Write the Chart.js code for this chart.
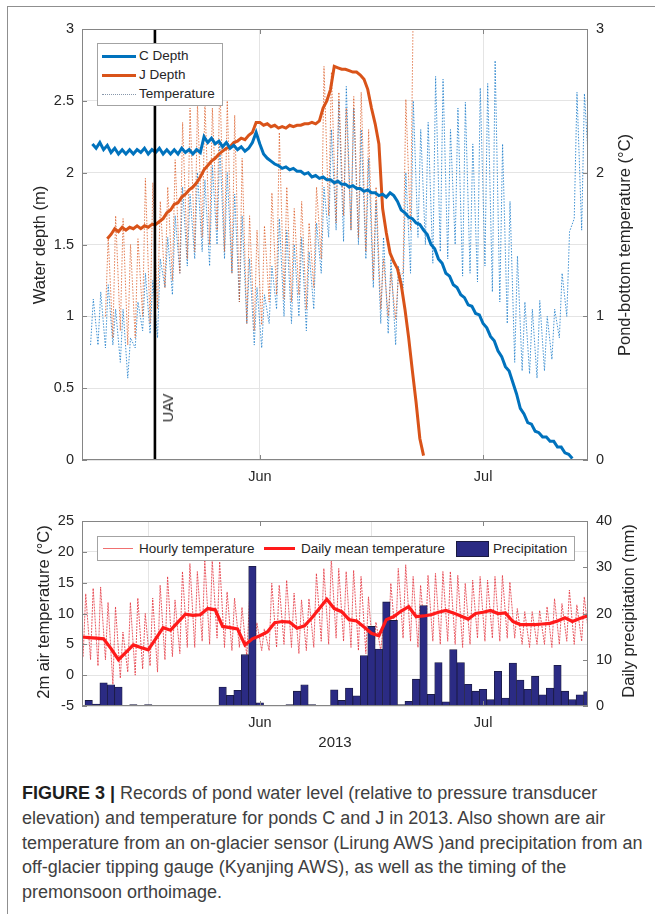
<!DOCTYPE html>
<html>
<head>
<meta charset="utf-8">
<script src="https://cdn.jsdelivr.net/npm/chart.js@4.4.1/dist/chart.umd.min.js"></script>
<style>
    html, body { margin: 0; padding: 0; background: #fff; }
    body { width: 655px; height: 914px; position: relative; overflow: hidden;
           font-family: "Liberation Sans", Arial, sans-serif; color: #262626; }
    #frame { position: absolute; left: 7px; top: 6px; width: 700px; height: 1000px;
             border-top: 1.5px solid #8f8f8f; border-left: 1.5px solid #8f8f8f; }
    canvas { position: absolute; left: 0; }
    #topChart { top: 0; }
    #bottomChart { top: 490px; }
    .title { position: absolute; white-space: nowrap; font-size: 16.5px; line-height: 18px; }
    .rot { transform: translate(-50%, -50%) rotate(-90deg); }
    .legend { position: absolute; background: #fff; border: 1px solid #a3a3a3; font-size: 13.5px; z-index: 2; }
    .legend .txt { position: absolute; white-space: nowrap; line-height: 16px; }
    .legend .smp { position: absolute; height: 0; }
    #caption { position: absolute; left: 22px; top: 781px; font-size: 18px; line-height: 24.8px;
               color: #404040; white-space: nowrap; }
    #caption b { color: #1e1e1e; }
</style>
</head>
<body>
<div id="frame"></div>
<canvas id="topChart" width="655" height="490"></canvas>
<canvas id="bottomChart" width="655" height="270"></canvas>

<!-- axis titles -->
<div class="title rot" style="left:39px;top:245px">Water depth (m)</div>
<div class="title rot" style="left:624px;top:245px">Pond-bottom temperature (°C)</div>
<div class="title rot" style="left:43px;top:612px">2m air temperature (°C)</div>
<div class="title rot" style="left:628px;top:611px">Daily precipitation (mm)</div>
<div class="title" style="left:335px;top:742px;transform:translate(-50%,-50%);font-size:15px">2013</div>
<div class="title rot" style="left:167.5px;top:408px;font-size:14.5px">UAV</div>

<!-- top legend -->
<div class="legend" style="left:97px;top:43px;width:124px;height:61px">
    <div class="smp" style="left:4px;top:11px;width:34px;border-top:3px solid #0072bd"></div>
    <div class="txt" style="left:41px;top:4px">C Depth</div>
    <div class="smp" style="left:4px;top:30px;width:34px;border-top:3px solid #d95319"></div>
    <div class="txt" style="left:41px;top:23px">J Depth</div>
    <div class="smp" style="left:4px;top:50px;width:34px;border-top:1px dotted #8797ab"></div>
    <div class="txt" style="left:41px;top:42px">Temperature</div>
</div>

<!-- bottom legend -->
<div class="legend" style="left:97px;top:536px;width:476px;height:23px">
    <div class="smp" style="left:5px;top:11px;width:30px;border-top:1px solid #f07070"></div>
    <div class="txt" style="left:41px;top:4px">Hourly temperature</div>
    <div class="smp" style="left:166px;top:10px;width:31px;border-top:3px solid #ff1a1a"></div>
    <div class="txt" style="left:203px;top:4px">Daily mean temperature</div>
    <div class="smp" style="left:358px;top:4px;width:31px;height:14px;background:#2b2b84;border:1px solid #1a1a40"></div>
    <div class="txt" style="left:395px;top:4px">Precipitation</div>
</div>

<div id="caption"><b>FIGURE 3 |</b> Records of pond water level (relative to pressure transducer<br>elevation) and temperature for ponds C and J in 2013. Also shown are air<br>temperature from an on-glacier sensor (Lirung AWS )and precipitation from an<br>off-glacier tipping gauge (Kyanjing AWS), as well as the timing of the<br>premonsoon orthoimage.</div>

<script>
// time axis: days counted from 1 June 2013
const xMin = -23.9;
const xMax = 44.1;
const monthTicks  = [0, 30];
const monthLabels = ['Jun', 'Jul'];
const depthTicks    = [0, 0.5, 1, 1.5, 2, 2.5, 3];
const pondTempTicks = [0, 1, 2, 3];
const airTempTicks  = [-5, 0, 5, 10, 15, 20, 25];
const precipTicks   = [0, 10, 20, 30, 40];

const uavDay = -14.1;

// pond C depth (m), twice a day from day -22.5
const cDepthStart = -22.5;
const cDepth = [
    2.20, 2.17, 2.21, 2.16, 2.19, 2.14, 2.17, 2.13, 2.16, 2.13,
    2.16, 2.13, 2.16, 2.14, 2.17, 2.13, 2.16, 2.14, 2.17, 2.13,
    2.16, 2.13, 2.16, 2.13, 2.17, 2.14, 2.16, 2.13, 2.16, 2.14,
    2.25, 2.21, 2.24, 2.20, 2.22, 2.18, 2.21, 2.17, 2.19, 2.16,
    2.18, 2.15, 2.17, 2.21, 2.28,
    2.20, 2.13, 2.10, 2.08, 2.06, 2.05, 2.03, 2.04, 2.02, 2.03,
    2.01, 2.01, 1.99, 2.00, 1.97, 1.98, 1.96, 1.97, 1.95, 1.95,
    1.93, 1.94, 1.92, 1.92, 1.90, 1.91, 1.89, 1.89, 1.87, 1.88,
    1.86, 1.86, 1.84,
    1.85, 1.83, 1.86, 1.84, 1.80, 1.74, 1.72, 1.69, 1.68, 1.65,
    1.64, 1.60, 1.57, 1.50, 1.47, 1.40, 1.37, 1.30, 1.28, 1.22,
    1.20, 1.15, 1.13, 1.08, 1.07, 1.02, 1.01, 0.95, 0.92, 0.86,
    0.83, 0.76, 0.72, 0.65, 0.62, 0.54, 0.46, 0.36, 0.32, 0.26,
    0.25, 0.20, 0.19, 0.16, 0.16, 0.13, 0.13, 0.09, 0.09, 0.05,
    0.04, 0.01
];

// pond J depth (m), twice a day from day -20.5
const jDepthStart = -20.5;
const jDepth = [
    1.54, 1.57, 1.61, 1.59, 1.62, 1.60, 1.62, 1.61, 1.63, 1.61,
    1.63, 1.62, 1.64, 1.64, 1.66, 1.68, 1.72, 1.74, 1.78, 1.79,
    1.83, 1.85, 1.88, 1.90, 1.93, 1.97, 2.02, 2.05, 2.08, 2.10,
    2.13, 2.15, 2.17, 2.18, 2.21, 2.22, 2.24, 2.23, 2.26, 2.28,
    2.35, 2.35, 2.33, 2.34, 2.32, 2.33, 2.31, 2.32, 2.31, 2.33,
    2.32, 2.33, 2.33, 2.34, 2.34, 2.35, 2.34, 2.36, 2.45, 2.50,
    2.58, 2.74, 2.73, 2.72, 2.72, 2.71, 2.70, 2.70, 2.68, 2.65,
    2.58, 2.45, 2.34, 2.20, 1.75, 1.58, 1.44, 1.38, 1.33, 1.22,
    1.05, 0.85, 0.62, 0.40, 0.15, 0.03
];

// pond-bottom temperature (°C), daily low / high
const cTempStart = -23;
const cTempMax = [
    1.12, 1.17, 1.22, 1.05, 1.05, 0.85, 1.10, 1.30, 1.25, 1.40,
    1.55, 1.70, 1.90, 1.85, 2.00, 1.95, 2.05, 2.20, 2.00, 1.85,
    1.70, 1.40, 1.20, 1.15, 1.35, 1.68, 1.60, 1.50, 1.55, 1.45,
    1.65, 1.90, 2.30, 2.50, 2.60, 2.45, 2.30, 2.10, 1.80, 1.55,
    1.40, 1.35, 2.00, 2.50, 2.30, 2.35, 2.67, 2.65, 2.30, 2.45,
    2.49, 2.20, 2.59, 2.62, 2.78, 2.20, 1.80, 1.42, 1.10, 1.05,
    1.11, 1.00, 1.05, 1.30, 1.59, 2.56, 2.55, 3.00
];
const cTempMin = [
    0.80, 0.80, 0.78, 0.80, 0.68, 0.57, 0.78, 0.90, 0.88, 0.85,
    1.20, 1.15, 1.30, 1.35, 1.40, 1.45, 1.35, 1.50, 1.40, 1.30,
    1.10, 0.95, 0.80, 0.78, 0.95, 1.05, 1.00, 0.95, 1.00, 0.90,
    1.05, 1.30, 1.55, 1.60, 1.52, 1.60, 1.50, 1.40, 1.20, 0.95,
    0.88, 0.80, 1.20, 1.30, 1.55, 1.50, 1.37, 1.45, 1.40, 1.50,
    1.28, 1.30, 1.24, 1.35, 1.17, 1.10, 0.95, 0.68, 0.62, 0.60,
    0.57, 0.62, 0.70, 0.85, 1.00, 1.68, 1.60, 2.00
];
const jTempStart = -21;
const jTempMax = [
    1.55, 1.70, 1.68, 1.50, 1.54, 1.96, 1.93, 1.80, 1.90, 2.09,
    2.35, 2.45, 2.48, 2.50, 2.45, 2.65, 2.50, 2.40, 2.10, 1.70,
    1.60, 1.63, 1.86, 2.28, 1.90, 1.75, 1.80, 1.65, 1.90, 2.74,
    2.70, 2.56, 2.45, 2.53, 2.56, 2.30, 1.90, 1.40, 1.30, 1.28,
    2.51, 3.20
];
const jTempMin = [
    1.00, 0.85, 0.90, 0.80, 0.85, 1.00, 0.95, 1.05, 1.20, 1.25,
    1.30, 1.40, 1.45, 1.55, 1.50, 1.60, 1.45, 1.30, 1.10, 0.95,
    0.90, 0.94, 1.10, 1.15, 1.12, 1.10, 1.15, 1.05, 1.20, 1.40,
    1.70, 1.65, 1.70, 1.60, 1.55, 1.45, 1.25, 1.05, 1.00, 0.98,
    1.30, 1.60
];

// 2 m air temperature (°C), daily low / high of hourly record and daily mean
const airStart = -24;
const hourlyMax = [
    13.2, 14.1, 14.3, 11.8, 11.1, 7.0, 11.8, 12.5, 10.0, 12.5,
    14.6, 16.0, 12.2, 16.8, 18.1, 16.8, 18.7, 18.7, 18.4, 13.5,
    12.5, 11.0, 12.0, 8.5, 7.5, 14.9, 14.6, 15.4, 13.3, 12.2,
    12.4, 16.5, 17.3, 18.9, 17.3, 16.8, 17.0, 16.0, 12.7, 8.6,
    8.1, 14.9, 17.3, 17.9, 16.0, 14.6, 16.2, 16.5, 16.8, 16.8,
    16.2, 14.9, 15.4, 16.0, 15.4, 16.0, 16.2, 15.1, 10.8, 10.3,
    10.3, 10.5, 11.1, 12.4, 11.6, 13.8, 11.4, 12.7, 12.5
];
const hourlyMin = [
    3.0, 2.5, 1.5, 2.5, -1.5, -0.5, 0.5, 0.0, 1.0, 1.5,
    0.5, 2.5, 3.0, 3.5, 4.5, 4.5, 5.5, 5.0, 6.0, 4.5,
    4.0, 4.5, 3.0, 2.5, 4.0, 4.0, 4.5, 5.0, 4.5, 3.5,
    4.0, 4.5, 5.5, 5.0, 6.0, 5.5, 4.5, 4.0, 3.5, 3.0,
    4.0, 4.5, 5.5, 6.0, 5.5, 4.5, 5.0, 5.5, 5.0, 5.5,
    5.0, 4.5, 5.0, 6.0, 5.5, 6.0, 5.5, 6.0, 6.0, 5.0,
    4.5, 5.0, 5.0, 4.5, 5.0, 5.5, 5.0, 5.5, 6.0
];
const dailyMean = [
    6.2, 6.1, 6.0, 5.9, 4.3, 2.5, 3.7, 4.9, 4.5, 4.1,
    5.9, 7.7, 7.3, 8.6, 9.9, 9.7, 9.8, 10.8, 10.6, 7.9,
    7.7, 7.5, 4.9, 5.9, 6.4, 7.0, 8.5, 8.7, 8.6, 7.6,
    8.0, 9.3, 10.8, 12.3, 10.8, 10.3, 9.0, 8.8, 7.8, 6.8,
    6.4, 9.0, 9.5, 10.4, 11.1, 9.5, 9.6, 9.8, 10.2, 10.5,
    10.1, 9.6, 9.1, 10.0, 10.2, 10.5, 10.0, 10.1, 8.7, 8.2,
    8.2, 8.2, 8.3, 8.4, 8.8, 9.3, 8.7, 9.2, 9.6
];

// daily precipitation (mm) from day -23
const precipStart = -23;
const precip = [
    1.2, 0.4, 5.0, 4.6, 4.1, 0, 0.3, 0, 0.3, 0,
    0, 0, 0, 0, 0, 0, 0, 0.1, 4.1, 2.3,
    3.4, 11.1, 30.2, 0.7, 0, 0, 0, 0.3, 3.2, 4.6,
    0.3, 0, 0, 3.5, 1.2, 3.9, 2.2, 10.9, 17.2, 12.3,
    22.5, 18.5, 0.3, 1.0, 5.8, 21.7, 2.5, 9.4, 0.9, 12.2,
    9.4, 4.7, 3.2, 3.6, 1.4, 7.5, 1.7, 9.3, 5.6, 3.6,
    6.4, 2.4, 3.9, 8.8, 3.2, 1.4, 2.4, 3.1
];

// ---------- helpers ----------
function halfDaily(start, vals) {
    return vals.map((v, i) => ({ x: start + i * 0.5, y: v }));
}
function daily(start, vals) {
    return vals.map((v, i) => ({ x: start + i, y: v }));
}
function diurnal(start, lows, highs, tLow, tHigh) {
    const pts = [];
    lows.forEach((lo, i) => {
        pts.push({ x: start + i + tLow, y: lo });
        pts.push({ x: start + i + tHigh, y: highs[i] });
    });
    return pts;
}
function fixedTicks(list) {
    return axis => { axis.ticks = list.map(v => ({ value: v })); };
}

const tickFont  = { family: '"Liberation Sans", Arial, sans-serif', size: 14.5 };
const tickColor = '#262626';
const gridColor = '#e4e4e4';

// plot box with inward tick marks
const axisBox = {
    id: 'axisBox',
    afterDatasetsDraw(chart) {
        const { ctx, chartArea: a, scales } = chart;
        ctx.save();
        ctx.strokeStyle = '#858585';
        ctx.lineWidth = 1;
        ctx.strokeRect(a.left + 0.5, a.top + 0.5, a.right - a.left - 1, a.bottom - a.top - 1);
        ctx.beginPath();
        scales.x.ticks.forEach(t => {
            const px = Math.round(scales.x.getPixelForValue(t.value)) + 0.5;
            ctx.moveTo(px, a.bottom); ctx.lineTo(px, a.bottom - 5);
            ctx.moveTo(px, a.top);    ctx.lineTo(px, a.top + 5);
        });
        scales.y.ticks.forEach(t => {
            const py = Math.round(scales.y.getPixelForValue(t.value)) + 0.5;
            ctx.moveTo(a.left, py); ctx.lineTo(a.left + 5, py);
        });
        scales.y2.ticks.forEach(t => {
            const py = Math.round(scales.y2.getPixelForValue(t.value)) + 0.5;
            ctx.moveTo(a.right, py); ctx.lineTo(a.right - 5, py);
        });
        ctx.stroke();
        ctx.restore();
    }
};

function timeAxis(height) {
    return {
        type: 'linear', min: xMin, max: xMax, offset: false,
        afterBuildTicks: fixedTicks(monthTicks),
        afterFit: s => { s.height = height; },
        ticks: { callback: v => monthLabels[monthTicks.indexOf(v)], padding: 8,
                 font: tickFont, color: tickColor, maxRotation: 0 },
        grid: { color: gridColor, drawTicks: false },
        border: { display: false }
    };
}
function valueAxis(side, min, max, list, width, showGrid) {
    return {
        position: side, min: min, max: max,
        afterBuildTicks: fixedTicks(list),
        afterFit: s => { s.width = width; },
        ticks: { callback: v => String(v), padding: 8, font: tickFont, color: tickColor },
        grid: { display: showGrid, color: gridColor, drawTicks: false },
        border: { display: false }
    };
}

/* ================= TOP: pond depth and temperature ================= */
new Chart(document.getElementById('topChart'), {
    type: 'line',
    data: {
        datasets: [
            {
                label: 'UAV',
                data: [{ x: uavDay, y: 0 }, { x: uavDay, y: 3 }],
                borderColor: '#000', borderWidth: 2.6, order: 0
            },
            {
                label: 'C Depth',
                data: halfDaily(cDepthStart, cDepth),
                borderColor: '#0072bd', borderWidth: 3, order: 1
            },
            {
                label: 'J Depth',
                data: halfDaily(jDepthStart, jDepth),
                borderColor: '#d95319', borderWidth: 3, order: 2
            },
            {
                label: 'J Temperature',
                data: diurnal(jTempStart, jTempMin, jTempMax, 0.25, 0.62),
                borderColor: 'rgba(217,83,25,0.75)', borderWidth: 1,
                borderDash: [1.5, 1.5], yAxisID: 'y2', order: 3
            },
            {
                label: 'C Temperature',
                data: diurnal(cTempStart, cTempMin, cTempMax, 0.25, 0.62),
                borderColor: 'rgba(20,120,200,0.8)', borderWidth: 1,
                borderDash: [1.5, 1.5], yAxisID: 'y2', order: 4
            }
        ]
    },
    options: {
        responsive: false,
        animation: false,
        layout: { padding: { top: 29, left: 0, right: 0, bottom: 0 } },
        elements: { point: { radius: 0 }, line: { tension: 0 } },
        plugins: { legend: { display: false }, tooltip: { enabled: false } },
        scales: {
            x: timeAxis(30),
            y: valueAxis('left', 0, 3, depthTicks, 82, true),
            y2: valueAxis('right', 0, 3, pondTempTicks, 67, false)
        }
    },
    plugins: [axisBox]
});

/* ================= BOTTOM: air temperature and precipitation ================= */
new Chart(document.getElementById('bottomChart'), {
    type: 'bar',
    data: {
        datasets: [
            {
                type: 'line',
                label: 'Daily mean temperature',
                data: daily(airStart, dailyMean),
                borderColor: '#ff1a1a', borderWidth: 3.2, order: 0
            },
            {
                type: 'bar',
                label: 'Precipitation',
                data: daily(precipStart, precip).filter(p => p.y > 0),
                backgroundColor: '#2b2b84', borderColor: '#1a1a40', borderWidth: 0.8,
                barPercentage: 1, categoryPercentage: 1, yAxisID: 'y2', order: 1
            },
            {
                type: 'line',
                label: 'Hourly temperature',
                data: diurnal(airStart, hourlyMin, hourlyMax, 0.25, 0.6),
                borderColor: 'rgba(228,50,60,0.8)', borderWidth: 1,
                borderDash: [2, 1], order: 2
            }
        ]
    },
    options: {
        responsive: false,
        animation: false,
        layout: { padding: { top: 31, left: 0, right: 0, bottom: 0 } },
        elements: { point: { radius: 0 }, line: { tension: 0 } },
        plugins: { legend: { display: false }, tooltip: { enabled: false } },
        scales: {
            x: timeAxis(54),
            y: valueAxis('left', -5, 25, airTempTicks, 82, true),
            y2: valueAxis('right', 0, 40, precipTicks, 67, false)
        }
    },
    plugins: [axisBox]
});
</script>
</body>
</html>
